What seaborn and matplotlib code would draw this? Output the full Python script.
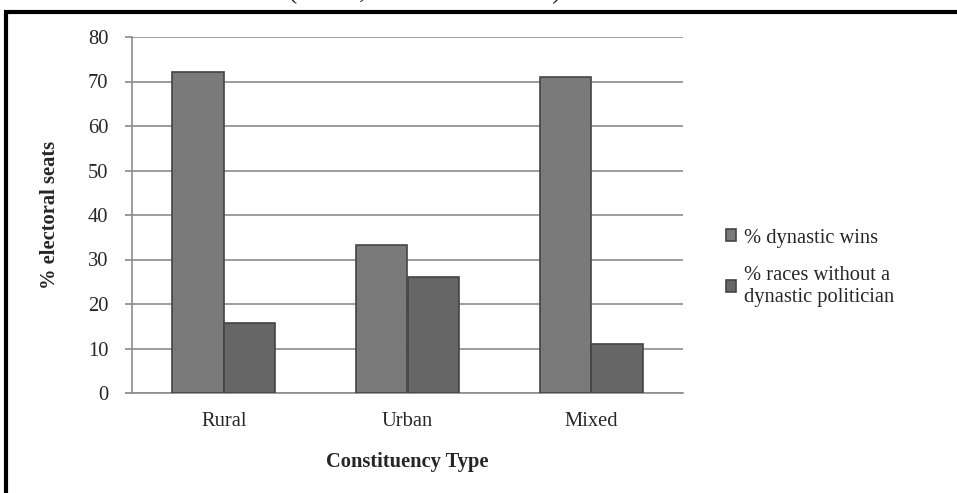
import matplotlib.pyplot as plt
import matplotlib.lines as mlines
import pandas as pd
import seaborn as sns

# values
categories = ['Rural', 'Urban', 'Mixed']
dynastic_wins = [72.2, 33.2, 71.0]
no_dynastic = [15.8, 26.0, 11.0]
series_names = ['% dynastic wins', '% races without a\ndynastic politician']
y_ticks = [0, 10, 20, 30, 40, 50, 60, 70, 80]

df = pd.DataFrame({
    'Constituency Type': categories * 2,
    'value': dynastic_wins + no_dynastic,
    'series': [series_names[0]] * 3 + [series_names[1]] * 3,
})

sns.set_theme(style='white')
plt.rcParams['font.family'] = ['Liberation Serif', 'DejaVu Serif']
fs = 14.8

fig = plt.figure(figsize=(9.57, 4.93), dpi=100)
ax = fig.add_axes([132 / 957, 1 - 393 / 493, (683 - 132) / 957, (393 - 37) / 493])

sns.barplot(data=df, x='Constituency Type', y='value', hue='series',
            palette=['#7a7a7a', '#666666'], width=0.56, gap=0,
            edgecolor='#444444', linewidth=1.2, saturation=1, ax=ax, zorder=3)

ax.set_ylim(0, 80)
ax.set_yticks(y_ticks)
ax.yaxis.grid(True, color='#8c8c8c', linewidth=1.2, zorder=0)
ax.set_axisbelow(True)
for s in ['top', 'right']:
    ax.spines[s].set_visible(False)
ax.spines['left'].set_color('#8c8c8c')
ax.spines['bottom'].set_color('#8c8c8c')
ax.spines['left'].set_linewidth(1.2)
ax.spines['bottom'].set_linewidth(1.2)
ax.tick_params(axis='y', left=True, length=5, color='#8c8c8c', labelsize=fs, pad=12)
ax.tick_params(axis='x', bottom=False, labelsize=fs, pad=8)

ax.set_xlabel('Constituency Type', fontsize=fs, fontweight='bold', labelpad=15)
ax.set_ylabel('% electoral seats', fontsize=fs, fontweight='bold', labelpad=20)

leg = ax.legend(loc='upper left', bbox_to_anchor=(1.078, 0.462), frameon=False,
                fontsize=fs, handlelength=0.5, handleheight=0.5, handletextpad=0.4,
                labelspacing=0.9, borderaxespad=0, borderpad=0)
for t in leg.get_texts():
    t.set_linespacing(1.2)

# frame of the screenshot and the clipped title above it
fig.add_artist(mlines.Line2D([4 / 957, 1], [1 - 12 / 493] * 2, color='black',
                             linewidth=3, solid_capstyle='butt'))
fig.add_artist(mlines.Line2D([6 / 957] * 2, [1 - 10 / 493, 0], color='black',
                             linewidth=3, solid_capstyle='butt'))
fig.text(0.444, 1 + 1.5 / 493, '(Rural, Urban or Mixed)', ha='center', va='baseline', fontsize=20)

plt.savefig('out.png', dpi=100)
